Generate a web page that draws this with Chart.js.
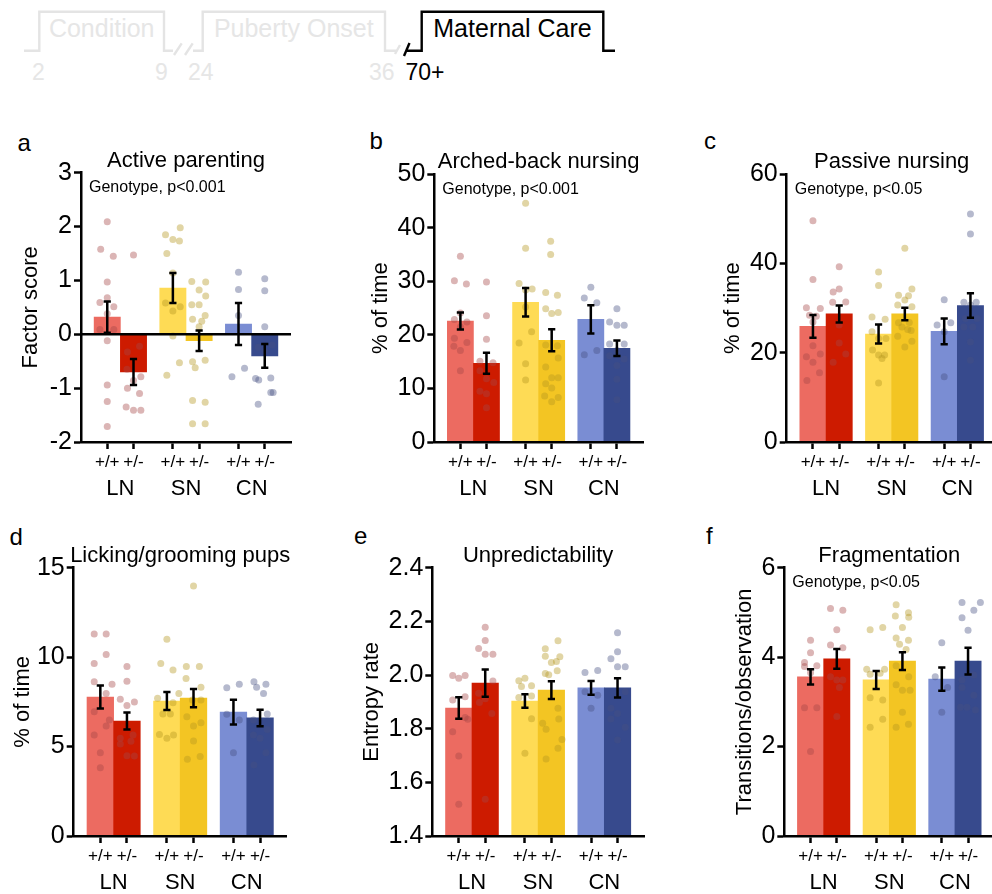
<!DOCTYPE html>
<html>
<head>
<meta charset="utf-8">
<script src="https://cdn.jsdelivr.net/npm/chart.js@4.4.1/dist/chart.umd.min.js"></script>
<style>
  body { margin: 0; width: 992px; height: 894px; overflow: hidden; background: #fff; position: relative;
         font-family: "Liberation Sans", Arial, Helvetica, sans-serif; }
  #deco { position: absolute; left: 0; top: 0; }
  canvas { position: absolute; }
</style>
</head>
<body>
<svg id="deco" width="992" height="894" font-family="Liberation Sans, Arial, sans-serif">
  <!-- timeline -->
  <g stroke="#e4e4e4" stroke-width="2.4" fill="none">
    <polyline points="24,50.7 39.3,50.7 39.3,11.7 164,11.7 164,50.7 173,50.7"/>
    <line x1="174" y1="55" x2="181.7" y2="43.3"/>
    <line x1="185" y1="55" x2="192.7" y2="43.3"/>
    <polyline points="193,50.7 202.7,50.7 202.7,11.7 385,11.7 385,50.7 396,50.7"/>
    <line x1="395" y1="54" x2="400" y2="45"/>
  </g>
  <g stroke="#000" stroke-width="2.4" fill="none">
    <line x1="404" y1="56" x2="409.5" y2="43"/>
    <polyline points="406,50.7 421.7,50.7 421.7,11.7 603.3,11.7 603.3,50.7 615,50.7"/>
  </g>
  <g font-size="25" text-anchor="middle">
    <text x="101.7" y="37.3" fill="#e6e6e6">Condition</text>
    <text x="293.8" y="37.3" fill="#e6e6e6">Puberty Onset</text>
    <text x="512.5" y="37.3" fill="#000">Maternal Care</text>
  </g>
  <g font-size="23">
    <text x="32" y="79.5" fill="#e6e6e6">2</text>
    <text x="155" y="79.5" fill="#e6e6e6">9</text>
    <text x="188" y="79.5" fill="#e6e6e6">24</text>
    <text x="369" y="79.5" fill="#e6e6e6">36</text>
    <text x="405.5" y="79.5" fill="#000">70+</text>
  </g>
  <!-- panel letters -->
  <g font-size="24" fill="#000">
    <text x="17.5" y="151">a</text>
    <text x="369.5" y="148.5">b</text>
    <text x="704" y="148.5">c</text>
    <text x="9.5" y="544.5">d</text>
    <text x="354" y="544">e</text>
    <text x="706" y="544">f</text>
  </g>
</svg>

<script>
// ---- shared categories ----
const conditions = ['LN', 'SN', 'CN'];
const genotypes = ['+/+', '+/-', '+/+', '+/-', '+/+', '+/-'];
const barX = [0, 1, 2.5, 3.5, 5, 6];     // bar centres on the x scale
const groupX = [0.5, 3, 5.5];            // condition label positions

// ---- a: Active parenting ----
const activeMean = [0.32, -0.70, 0.86, -0.12, 0.19, -0.40];
const activeSem = [0.29, 0.24, 0.28, 0.19, 0.39, 0.22];
const activePts = [
  [2.09, 1.58, 1.45, 0.97, 0.68, 0.59, 0.51, 0.38, 0.09, 0.09, -0.12, -0.94, -1.25, -1.71],
  [1.47, -0.22, -0.33, -0.65, -0.79, -0.86, -1.0, -1.1, -1.35, -1.41, -1.41],
  [1.98, 1.85, 1.76, 1.73, 1.50, 1.14, 0.58, 0.51, 0.43, -0.03, -0.53, -0.76],
  [0.98, 0.97, 0.82, 0.71, 0.55, 0.55, 0.35, 0.28, 0.24, 0.14, -0.48, -0.51, -0.62, -1.23, -1.26, -1.66, -1.66],
  [1.15, 0.83, 0.35, -0.63, -0.79],
  [1.03, 0.81, 0.14, -0.20, -0.24, -0.31, -0.81, -0.82, -0.85, -1.08, -1.08, -1.30]
];
const activeJit = [
  [0, -0.25, 0.23, 0, 0, -0.28, 0.25, 0, -0.28, 0.25, 0, 0, 0, 0],
  [0, 0.23, -0.23, -0.25, 0.28, 0, -0.23, 0.23, -0.28, 0, 0.28],
  [0.28, -0.28, 0, 0.25, -0.23, 0, -0.28, 0.28, 0, 0, 0.25, -0.23],
  [-0.28, 0.25, 0, 0.25, -0.28, 0, 0.23, -0.25, 0.1, 0, 0.23, -0.25, -0.15, -0.25, 0.23, -0.25, 0.23],
  [0, 0, 0, 0.23, -0.25],
  [0, 0, 0, 0.28, -0.25, 0, 0.23, -0.35, -0.23, 0.23, 0.32, -0.25]
];

// ---- b: Arched-back nursing ----
const archedMean = [22.6, 14.7, 26.1, 19.0, 22.9, 17.5];
const archedSem = [1.6, 1.95, 2.65, 2.05, 2.65, 1.45];
const archedPts = [
  [34.7, 30.1, 29.5, 24.1, 22.9, 22.4, 21.5, 19.4, 18.6, 17.9, 17.1, 13.3],
  [29.9, 23.6, 19.2, 15.1, 14.8, 13.3, 11.8, 11.1, 9.5, 9.0, 6.4],
  [44.6, 36.2, 29.6, 28.6, 28.4, 25.2, 20.6, 18.5, 14.6, 11.6],
  [37.5, 35.0, 27.9, 27.4, 24.9, 24.2, 24.0, 18.1, 18.0, 15.7, 14.0, 12.0, 12.0, 10.9, 10.1, 8.6, 8.3, 7.5],
  [28.9, 26.9, 26.0, 17.1, 16.3],
  [24.9, 22.4, 21.8, 21.8, 18.3, 18.3, 17.1, 16.1, 15.5, 14.3, 11.7, 7.9]
];
const archedJit = [
  [0, -0.23, 0.23, 0, -0.23, 0.25, 0, -0.23, 0.25, -0.25, 0, 0],
  [0, 0, 0, -0.25, 0.25, -0.25, 0, 0.28, -0.25, 0, 0],
  [0, 0, -0.25, 0.25, 0, 0, 0.23, -0.25, 0, 0],
  [-0.04, -0.04, -0.23, 0.22, -0.23, 0.25, 0, -0.23, 0.22, 0.25, -0.23, 0, 0.25, -0.23, 0, -0.27, 0.25, 0],
  [0, -0.25, 0.23, 0.23, -0.25],
  [0, -0.28, 0, 0.28, -0.28, 0.28, 0, -0.28, 0.28, 0, 0, 0]
];

// ---- c: Passive nursing ----
const passiveMean = [25.9, 28.7, 24.2, 28.7, 24.8, 30.6];
const passiveSem = [2.55, 1.9, 2.15, 1.4, 2.9, 2.75];
const passivePts = [
  [49.6, 36.4, 30.1, 29.9, 28.4, 28.2, 26.9, 21.6, 19.7, 19.1, 17.9, 15.5, 13.8],
  [39.3, 34.3, 33.6, 31.4, 31.3, 26.2, 22.2, 19.7, 17.9],
  [38.1, 35.1, 28.0, 27.5, 24.7, 23.2, 23.2, 20.6, 19.5, 19.5, 18.7, 13.2],
  [43.4, 34.3, 32.9, 32.8, 31.8, 30.7, 30.3, 26.8, 26.7, 25.8, 25.2, 25.0, 23.7, 22.6, 21.3],
  [31.9, 26.7, 26.2, 24.7, 14.6],
  [51.1, 46.6, 31.3, 31.3, 30.7, 27.7, 27.7, 25.8, 25.8, 22.4, 18.3]
];
const passiveJit = [
  [0, 0, -0.25, 0.28, -0.13, 0.13, 0, 0, 0.28, -0.25, 0, 0.25, -0.23],
  [0, 0, -0.23, 0.25, -0.25, 0, 0, 0.25, -0.23],
  [0, 0, -0.25, 0.25, -0.25, 0, 0.28, -0.23, 0, 0.23, 0.13, 0],
  [0, 0.27, -0.24, 0.14, 0, -0.27, 0.27, 0.17, -0.24, -0.11, 0.11, 0.24, -0.27, 0.27, 0],
  [0, 0.25, -0.27, 0, 0],
  [0, 0, -0.25, 0.22, 0, -0.19, 0.25, -0.25, 0.09, 0, 0]
];

// ---- d: Licking/grooming pups ----
const lickingMean = [7.77, 6.43, 7.55, 7.71, 6.93, 6.60];
const lickingSem = [0.64, 0.48, 0.50, 0.51, 0.69, 0.46];
const lickingPts = [
  [11.3, 11.3, 10.15, 9.65, 8.63, 8.48, 7.97, 6.95, 6.48, 6.15, 5.65, 4.66, 3.82],
  [9.47, 8.65, 7.64, 7.49, 7.3, 5.65, 5.46, 5.3, 5.14, 4.49, 4.47],
  [11.0, 9.65, 9.28, 7.97, 7.7, 7.45, 6.82, 6.82, 5.68, 5.65, 5.46],
  [13.97, 9.47, 9.47, 8.8, 8.31, 7.6, 7.6, 6.67, 6.33, 6.15, 5.31, 4.45, 4.29],
  [8.48, 8.29, 6.8, 6.48, 4.66],
  [8.63, 8.48, 8.31, 7.97, 6.82, 6.48, 5.96, 5.65, 5.46, 4.66, 3.97]
];
const lickingJit = [
  [-0.23, 0.22, 0.22, -0.23, -0.23, 0.44, 0.22, -0.23, 0.34, 0.22, -0.23, 0, 0],
  [0, 0, -0.25, 0.28, 0, 0.23, -0.25, 0.15, -0.25, 0, 0.28],
  [0, -0.23, 0.23, 0.45, -0.35, 0.23, -0.15, 0.13, -0.28, 0.25, 0],
  [0, -0.27, 0.22, -0.28, 0.28, -0.04, 0.28, -0.25, 0.28, 0, 0, 0.25, -0.23],
  [0.22, -0.25, -0.25, 0.22, 0],
  [-0.23, 0.22, -0.13, 0.13, 0.27, -0.25, 0.27, -0.25, 0, 0.22, -0.23]
];

// ---- e: Unpredictability ----
const entropyMean = [1.877, 1.970, 1.903, 1.944, 1.952, 1.952];
const entropySem = [0.040, 0.051, 0.025, 0.033, 0.026, 0.036];
const entropyPts = [
  [1.998, 1.998, 1.988, 1.919, 1.907, 1.842, 1.835, 1.789, 1.698, 1.518],
  [2.178, 2.129, 2.099, 2.077, 2.077, 1.978, 1.932, 1.912, 1.898, 1.857, 1.537],
  [1.988, 1.979, 1.960, 1.957, 1.922, 1.916, 1.837, 1.708],
  [2.128, 2.098, 2.070, 2.068, 2.050, 2.047, 2.016, 2.006, 2.001, 1.876, 1.836, 1.820, 1.798, 1.760, 1.727, 1.687],
  [2.017, 2.009, 1.938, 1.925, 1.876],
  [2.158, 2.087, 2.061, 2.031, 2.031, 1.938, 1.876, 1.857, 1.836, 1.805, 1.758]
];
const entropyJit = [
  [-0.23, 0.24, 0, 0.24, -0.23, 0.24, 0.34, -0.23, 0, 0],
  [0, 0, -0.25, 0, 0.29, 0.29, -0.25, 0, -0.22, 0.25, 0],
  [0, -0.23, 0.25, -0.13, 0.25, -0.23, 0.25, 0],
  [0.25, -0.23, -0.23, 0.32, 0.19, 0, 0.22, -0.23, -0.1, 0.25, 0.28, -0.33, -0.2, 0.4, 0.25, -0.2],
  [0.25, -0.23, -0.23, 0.25, 0],
  [0, 0, -0.25, 0, 0.29, 0.29, -0.25, 0, -0.25, 0.29, 0]
];

// ---- f: Fragmentation ----
const fragMean = [3.56, 3.96, 3.49, 3.91, 3.51, 3.91];
const fragSem = [0.17, 0.22, 0.20, 0.20, 0.26, 0.30];
const fragPts = [
  [4.38, 4.10, 3.88, 3.81, 3.79, 3.65, 2.87, 2.87, 1.89],
  [5.09, 5.05, 4.61, 4.27, 4.21, 3.56, 3.49, 3.49, 3.32, 2.67],
  [4.66, 4.61, 3.73, 3.73, 3.64, 3.62, 3.09, 3.04, 2.61, 2.43],
  [5.17, 4.99, 4.92, 4.89, 4.66, 4.43, 4.38, 4.29, 4.17, 3.81, 3.56, 3.38, 3.26, 3.26, 2.77, 2.5, 2.43],
  [4.32, 3.56, 3.32, 2.77],
  [5.22, 5.22, 5.05, 4.88, 4.60, 3.60, 3.49, 3.32, 3.15, 2.88, 2.88, 2.82]
];
const fragJit = [
  [0, 0, -0.23, 0.24, -0.23, 0, 0.24, -0.23, 0],
  [-0.24, 0.23, 0, -0.24, 0.23, -0.24, 0.23, 0, 0.1, 0],
  [0.25, -0.23, -0.36, 0.32, 0.15, -0.23, -0.23, 0.25, 0.25, -0.23],
  [-0.24, 0.23, -0.27, 0.24, 0, -0.24, 0.23, -0.11, 0.14, -0.24, 0.24, -0.24, 0, 0.29, 0, 0.23, -0.24],
  [0, -0.25, 0.22, 0],
  [-0.23, 0.47, 0.22, -0.23, 0, 0.22, -0.23, -0.23, 0.22, -0.29, -0.04, 0.28]
];

// ---- styling ----
const FONT = '"Liberation Sans", Arial, Helvetica, sans-serif';
const barColors = ['#ec6b61', '#cd1b00', '#fedb55', '#f3c523', '#7a8dd3', '#374a8d'];
const dotColors = ['rgba(165,70,70,0.4)', 'rgba(180,150,30,0.4)', 'rgba(70,80,130,0.4)'];
const AXIS_W = 2.5;

const panels = [
  { title: 'Active parenting', yTitle: 'Factor score', note: 'Genotype, p<0.001',
    min: -2, max: 3, step: 1, dec: 0, zero: true,
    mean: activeMean, sem: activeSem, pts: activePts, jit: activeJit,
    box: { l: 81, r: 291, t: 172.7, b: 441.7, yt: 31, top: 130 } },
  { title: 'Arched-back nursing', yTitle: '% of time', note: 'Genotype, p<0.001',
    min: 0, max: 50, step: 10, dec: 0,
    mean: archedMean, sem: archedSem, pts: archedPts, jit: archedJit,
    box: { l: 434.3, r: 643, t: 174.3, b: 441.7, yt: 381.3, top: 130 } },
  { title: 'Passive nursing', yTitle: '% of time', note: 'Genotype, p<0.05',
    min: 0, max: 60, step: 20, dec: 0,
    mean: passiveMean, sem: passiveSem, pts: passivePts, jit: passiveJit,
    box: { l: 786.7, r: 996.7, t: 174.3, b: 441.7, yt: 733.3, top: 130 } },
  { title: 'Licking/grooming pups', yTitle: '% of time', note: null,
    min: 0, max: 15, step: 5, dec: 0,
    mean: lickingMean, sem: lickingSem, pts: lickingPts, jit: lickingJit,
    box: { l: 73.7, r: 286.7, t: 567.7, b: 836, yt: 22.8, top: 520 } },
  { title: 'Unpredictability', yTitle: 'Entropy rate', note: null,
    min: 1.4, max: 2.4, step: 0.2, dec: 1,
    mean: entropyMean, sem: entropySem, pts: entropyPts, jit: entropyJit,
    box: { l: 432.3, r: 644, t: 567.7, b: 836, yt: 372, top: 520 } },
  { title: 'Fragmentation', yTitle: 'Transitions/observation', note: 'Genotype, p<0.05',
    min: 0, max: 6, step: 2, dec: 0,
    mean: fragMean, sem: fragSem, pts: fragPts, jit: fragJit,
    box: { l: 784.3, r: 994.3, t: 567.7, b: 836, yt: 744.7, top: 520 } }
];

// zero line, error bars, panel title and note
const panelExtras = {
  id: 'panelExtras',
  afterDatasetsDraw(chart, args, opts) {
    const { ctx, chartArea, scales: { x, y } } = chart;
    ctx.save();
    ctx.strokeStyle = '#000';
    ctx.lineWidth = 2.5;
    if (opts.zero) {
      const y0 = y.getPixelForValue(0);
      ctx.beginPath();
      ctx.moveTo(chartArea.left, y0);
      ctx.lineTo(chartArea.right, y0);
      ctx.stroke();
    }
    opts.mean.forEach((m, i) => {
      const px = x.getPixelForValue(barX[i]);
      const hi = y.getPixelForValue(m + opts.sem[i]);
      const lo = y.getPixelForValue(m - opts.sem[i]);
      ctx.beginPath();
      ctx.moveTo(px, hi); ctx.lineTo(px, lo);
      ctx.moveTo(px - 3.6, hi); ctx.lineTo(px + 3.6, hi);
      ctx.moveTo(px - 3.6, lo); ctx.lineTo(px + 3.6, lo);
      ctx.stroke();
    });
    ctx.restore();
  },
  afterDraw(chart, args, opts) {
    const { ctx, chartArea } = chart;
    ctx.save();
    ctx.fillStyle = '#000';
    ctx.textBaseline = 'middle';
    ctx.textAlign = 'center';
    ctx.font = '22px ' + FONT;
    ctx.fillText(opts.title, (chartArea.left + chartArea.right) / 2, chartArea.top - 12);
    if (opts.note) {
      ctx.textAlign = 'left';
      ctx.font = '16px ' + FONT;
      ctx.fillText(opts.note, chartArea.left + 8, chartArea.top + 15);
    }
    ctx.restore();
  }
};

function makePanel(p) {
  const b = p.box;
  const X1_H = 30, X2_H = 30;
  const left = Math.round(b.yt - 13.2);
  const right = Math.ceil(b.r + 6);
  const bottom = Math.ceil(b.b + X1_H + X2_H);
  const canvas = document.createElement('canvas');
  canvas.width = right - left;
  canvas.height = bottom - b.top;
  canvas.style.left = left + 'px';
  canvas.style.top = b.top + 'px';
  document.body.appendChild(canvas);

  const datasets = [{
    type: 'bar',
    data: p.mean.map((v, i) => ({ x: barX[i], y: v })),
    backgroundColor: barColors,
    borderWidth: 0,
    barPercentage: 1,
    categoryPercentage: 1,
    order: 2
  }];
  p.pts.forEach((ys, g) => {
    datasets.push({
      type: 'scatter',
      data: ys.map((v, k) => ({ x: barX[g] + p.jit[g][k], y: v })),
      backgroundColor: dotColors[Math.floor(g / 2)],
      pointRadius: 3.5,
      pointBorderWidth: 0,
      order: 1
    });
  });

  new Chart(canvas, {
    type: 'bar',
    data: { datasets },
    options: {
      responsive: false,
      animation: false,
      events: [],
      layout: { padding: { left: 0, top: b.t - b.top, right: right - b.r, bottom: 0 } },
      plugins: {
        legend: { display: false },
        tooltip: { enabled: false },
        panelExtras: { title: p.title, note: p.note, mean: p.mean, sem: p.sem, zero: !!p.zero }
      },
      scales: {
        x: {
          type: 'linear', position: 'bottom', min: -1, max: 7, offset: false, weight: 0,
          afterBuildTicks: s => { s.ticks = barX.map(v => ({ value: v })); },
          afterFit: s => { s.height = X1_H; },
          ticks: { autoSkip: false, maxRotation: 0, padding: 3.3, color: '#000',
                   font: { size: 17, family: FONT }, callback: (v, i) => genotypes[i] },
          grid: { drawOnChartArea: false, offset: false, tickLength: 7, tickColor: '#000', tickWidth: AXIS_W },
          border: { color: '#000', width: AXIS_W, z: 1 }
        },
        x2: {
          type: 'linear', position: 'bottom', min: -1, max: 7, offset: false, weight: 1,
          afterBuildTicks: s => { s.ticks = groupX.map(v => ({ value: v })); },
          afterFit: s => { s.height = X2_H; },
          ticks: { autoSkip: false, maxRotation: 0, padding: 3.3, color: '#000',
                   font: { size: 22, family: FONT }, callback: (v, i) => conditions[i] },
          grid: { display: false, drawTicks: false },
          border: { display: false }
        },
        y: {
          position: 'left', min: p.min, max: p.max, beginAtZero: false,
          afterFit: s => { s.width = b.l - left; },
          ticks: { stepSize: p.step, padding: 2, color: '#000', font: { size: 25, family: FONT },
                   callback: v => v.toFixed(p.dec) },
          title: { display: true, text: p.yTitle, color: '#000', padding: { top: 0, bottom: 0 },
                   font: { size: 22, family: FONT } },
          grid: { drawOnChartArea: false, tickLength: 7, tickColor: '#000', tickWidth: AXIS_W },
          border: { color: '#000', width: AXIS_W, z: 1 }
        }
      }
    },
    plugins: [panelExtras]
  });
}

panels.forEach(makePanel);
</script>
</body>
</html>
